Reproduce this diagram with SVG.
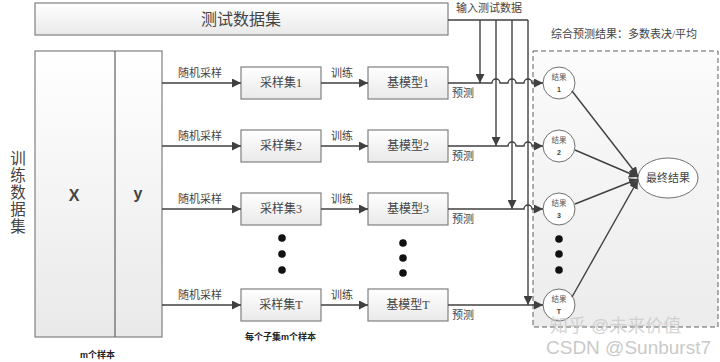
<svg xmlns="http://www.w3.org/2000/svg" width="720" height="362" viewBox="0 0 720 362">
<defs>
<linearGradient id="gb" x1="0" y1="0" x2="0" y2="1"><stop offset="0" stop-color="#ffffff"/><stop offset="1" stop-color="#e9e9e9"/></linearGradient>
<linearGradient id="gd" x1="0" y1="0" x2="0" y2="1"><stop offset="0" stop-color="#fbfbfb"/><stop offset="1" stop-color="#ececec"/></linearGradient>
<marker id="ar" viewBox="0 0 10 10" refX="10" refY="5" markerWidth="9" markerHeight="9" markerUnits="userSpaceOnUse" orient="auto"><path d="M0,0 L10,5 L0,10 z" fill="#404040"/></marker>
<style>
.box{fill:url(#gb);stroke:#808080;stroke-width:1.2}
.ln{fill:none;stroke:#404040;stroke-width:1.4}
.t{font-family:"Liberation Serif","Noto Sans CJK SC",serif;fill:#444}
.s{font-family:"Liberation Sans","Noto Sans CJK SC",sans-serif;fill:#444}
.c{fill:#fff;stroke:#707070;stroke-width:1}
.dot{fill:#111}
.ct{font-family:"Liberation Serif","Noto Sans CJK SC",serif;fill:#555;font-size:7.5px;text-anchor:middle}
.cn{font-family:"Liberation Sans",sans-serif;fill:#444;font-size:7px;text-anchor:middle;font-weight:bold}
</style>
</defs>
<g id="dashed-region"><rect x="533" y="51" width="185" height="276" fill="url(#gd)" stroke="#606060" stroke-width="1" stroke-dasharray="5,3"/></g>
<g id="test-set"><rect class="box" x="35" y="3" width="413" height="32"/><text class="t" x="241" y="25" font-size="16" text-anchor="middle">测试数据集</text></g>
<g id="train-set"><rect class="box" x="35" y="51" width="127" height="286"/><line x1="115" y1="51" x2="115" y2="337" stroke="#606060" stroke-width="1.2"/><text class="s" x="74" y="201" font-size="16" font-weight="bold" text-anchor="middle" fill="#222">X</text><text class="s" x="138" y="199" font-size="16" font-weight="bold" text-anchor="middle" fill="#222">y</text></g>
<g id="train-label" class="s" font-size="15.5" text-anchor="middle"><text x="18" y="164">训</text><text x="18" y="181">练</text><text x="18" y="198">数</text><text x="18" y="215">据</text><text x="18" y="232">集</text></g>
<g id="sample1"><rect class="box" x="241" y="67" width="80" height="32"/><text class="t" x="281" y="87" font-size="12" text-anchor="middle">采样集1</text></g>
<g id="sample2"><rect class="box" x="241" y="130" width="80" height="32"/><text class="t" x="281" y="150" font-size="12" text-anchor="middle">采样集2</text></g>
<g id="sample3"><rect class="box" x="241" y="193" width="80" height="32"/><text class="t" x="281" y="213" font-size="12" text-anchor="middle">采样集3</text></g>
<g id="sampleT"><rect class="box" x="241" y="289" width="80" height="32"/><text class="t" x="281" y="309" font-size="12" text-anchor="middle">采样集T</text></g>
<g id="model1"><rect class="box" x="368" y="67" width="80" height="32"/><text class="t" x="408" y="87" font-size="12" text-anchor="middle">基模型1</text></g>
<g id="model2"><rect class="box" x="368" y="130" width="80" height="32"/><text class="t" x="408" y="150" font-size="12" text-anchor="middle">基模型2</text></g>
<g id="model3"><rect class="box" x="368" y="193" width="80" height="32"/><text class="t" x="408" y="213" font-size="12" text-anchor="middle">基模型3</text></g>
<g id="modelT"><rect class="box" x="368" y="289" width="80" height="32"/><text class="t" x="408" y="309" font-size="12" text-anchor="middle">基模型T</text></g>
<g id="result1"><circle class="c" cx="559" cy="83" r="16"/><text class="ct" x="559" y="80">结果</text><text class="cn" x="559" y="92">1</text></g>
<g id="result2"><circle class="c" cx="559" cy="146" r="16"/><text class="ct" x="559" y="143">结果</text><text class="cn" x="559" y="155" font-weight="normal">2</text></g>
<g id="result3"><circle class="c" cx="559" cy="209" r="16"/><text class="ct" x="559" y="206">结果</text><text class="cn" x="559" y="218" font-weight="normal">3</text></g>
<g id="resultT"><circle class="c" cx="559" cy="305" r="16"/><text class="ct" x="559" y="302">结果</text><text class="cn" x="559" y="314">T</text></g>
<g id="final"><ellipse cx="668" cy="178" rx="30" ry="20" fill="#fff" stroke="#707070" stroke-width="1"/><text class="t" x="668" y="182" font-size="11" text-anchor="middle">最终结果</text></g>
<g id="dots"><circle class="dot" cx="282" cy="238" r="3.8"/><circle class="dot" cx="282" cy="254" r="3.8"/><circle class="dot" cx="282" cy="270" r="3.8"/><circle class="dot" cx="403" cy="243" r="3.8"/><circle class="dot" cx="403" cy="258" r="3.8"/><circle class="dot" cx="403" cy="273" r="3.8"/><circle class="dot" cx="559" cy="239" r="3.8"/><circle class="dot" cx="559" cy="254" r="3.8"/><circle class="dot" cx="559" cy="270" r="3.8"/></g>
<g id="connectors">
<line class="ln" x1="162" y1="83" x2="241" y2="83" marker-end="url(#ar)"/>
<line class="ln" x1="162" y1="146" x2="241" y2="146" marker-end="url(#ar)"/>
<line class="ln" x1="162" y1="209" x2="241" y2="209" marker-end="url(#ar)"/>
<line class="ln" x1="162" y1="305" x2="241" y2="305" marker-end="url(#ar)"/>
<line class="ln" x1="321" y1="83" x2="368" y2="83" marker-end="url(#ar)"/>
<line class="ln" x1="321" y1="146" x2="368" y2="146" marker-end="url(#ar)"/>
<line class="ln" x1="321" y1="209" x2="368" y2="209" marker-end="url(#ar)"/>
<line class="ln" x1="321" y1="305" x2="368" y2="305" marker-end="url(#ar)"/>
<path class="ln" d="M448,20 H528"/>
<line class="ln" x1="480" y1="20" x2="480" y2="83" marker-end="url(#ar)"/>
<line class="ln" x1="496" y1="20" x2="496" y2="146" marker-end="url(#ar)"/>
<line class="ln" x1="512" y1="20" x2="512" y2="209" marker-end="url(#ar)"/>
<line class="ln" x1="528" y1="20" x2="528" y2="305" marker-end="url(#ar)"/>
<path class="ln" d="M448,83 H492 a4,4 0 0 1 8,0 H508 a4,4 0 0 1 8,0 H524 a4,4 0 0 1 8,0 H543" marker-end="url(#ar)"/>
<path class="ln" d="M448,146 H508 a4,4 0 0 1 8,0 H524 a4,4 0 0 1 8,0 H543" marker-end="url(#ar)"/>
<path class="ln" d="M448,209 H524 a4,4 0 0 1 8,0 H543" marker-end="url(#ar)"/>
<path class="ln" d="M448,305 H543" marker-end="url(#ar)"/>
<line class="ln" x1="572" y1="91" x2="638" y2="176" marker-end="url(#ar)"/>
<line class="ln" x1="575" y1="150" x2="638" y2="177" marker-end="url(#ar)"/>
<line class="ln" x1="575" y1="204" x2="638" y2="179" marker-end="url(#ar)"/>
<line class="ln" x1="572" y1="297" x2="638" y2="180" marker-end="url(#ar)"/>
</g>
<g id="labels" class="s" font-size="11">
<text x="178" y="77">随机采样</text><text x="178" y="140">随机采样</text><text x="178" y="203">随机采样</text><text x="178" y="299">随机采样</text>
<text x="331" y="77">训练</text><text x="331" y="140">训练</text><text x="331" y="203">训练</text><text x="331" y="299">训练</text>
<text x="452" y="97">预测</text><text x="452" y="160">预测</text><text x="452" y="223">预测</text><text x="452" y="319">预测</text>
<text x="456" y="12" font-family="Liberation Serif,Noto Sans CJK SC,serif">输入测试数据</text>
<text x="551" y="38" font-family="Liberation Serif,Noto Sans CJK SC,serif">综合预测结果：多数表决/平均</text>
<text x="245" y="340" font-size="9" font-weight="bold" fill="#222">每个子集m个样本</text>
<text x="80" y="358" font-size="9" font-weight="bold" fill="#222">m个样本</text>
</g>
<g id="watermark" class="s" opacity="0.75"><text x="550" y="332" font-size="18" fill="#c8c8c8">知乎 @未来价值</text><text x="546" y="354" font-size="19" fill="#b8b8b8">CSDN @Sunburst7</text></g>
</svg>
